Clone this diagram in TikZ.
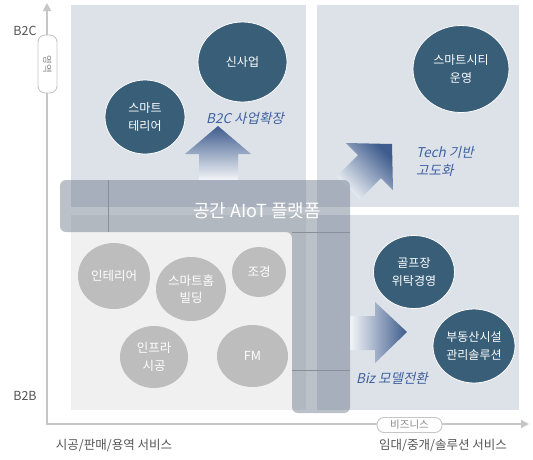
\documentclass[tikz,border=0pt]{standalone}
\usepackage{fontspec}
\setmainfont{Noto Sans CJK KR}
\newfontfamily\slfont[FakeSlant=0.22]{Noto Sans CJK KR}
\usetikzlibrary{arrows.meta,shapes.geometric}
\definecolor{panel}{HTML}{DDE1E8}
\definecolor{panellight}{HTML}{F0F0F0}
\definecolor{darkc}{HTML}{385E78}
\definecolor{greyc}{HTML}{BDBDBD}
\definecolor{bluetxt}{HTML}{3F62A0}
\definecolor{arrowdark}{HTML}{3E5C8D}
\definecolor{arrowlight}{HTML}{F3F5F8}
\definecolor{axisgrey}{HTML}{C6C6C6}
\definecolor{labelgrey}{HTML}{555555}
\definecolor{pilltext}{HTML}{8A8A8A}
\definecolor{platc}{HTML}{56667A}
\definecolor{platline}{HTML}{86909B}
\begin{document}
\begin{tikzpicture}[x=1pt,y=-1pt,
  darkcircle/.style={ellipse, fill=darkc, draw=white, line width=0.8pt, inner sep=0pt},
  greycircle/.style={ellipse, fill=greyc, inner sep=0pt},
  circtext/.style={text=white, align=center, inner sep=0pt, font=\fontsize{12}{18.5}\selectfont},
  greytext/.style={text=white, align=center, inner sep=0pt, font=\fontsize{12.5}{17.5}\selectfont},
  bluelabel/.style={text=bluetxt, inner sep=0pt, font=\slfont\fontsize{13.5}{18}\selectfont},
  axlabel/.style={text=labelgrey, inner sep=0pt, font=\fontsize{12.5}{14}\selectfont},
  pill/.style={draw=axisgrey, fill=white, line width=0.9pt, rounded corners=7pt, inner sep=0pt},
  axisline/.style={draw=axisgrey, line width=1.8pt, -{Triangle[length=8pt,width=8pt]}},
  platlinestyle/.style={draw=platline, line width=0.7pt},
]
\useasboundingbox (0,0) rectangle (533,459);
\fill[white] (0,0) rectangle (533,459);

% panels
\fill[panel] (71,5) rectangle (306,207);
\fill[panel] (317,5) rectangle (519,207);
\fill[panellight] (71,215) rectangle (306,410);
\fill[panel] (317,215) rectangle (519,410);

% axes
\coordinate (origin) at (47,424);
\coordinate (ytop) at (47,3);
\coordinate (xend) at (529,424);
\draw[axisline] (origin) -- (ytop);
\draw[axisline] ([xshift=-0.9pt]origin) -- (xend);

\node[pill, minimum width=19pt, minimum height=58pt] (ypill) at (47.5,64) {};
\node[text=pilltext, rotate=-90, inner sep=0pt, font=\fontsize{9.5}{10}\selectfont] (ypilltext) at (ypill) {영역};
\node[pill, minimum width=65pt, minimum height=15pt] (xpill) at (409.5,425) {};
\node[text=pilltext, inner sep=0pt, font=\fontsize{10.5}{12}\selectfont] (xpilltext) at (xpill) {비즈니스};

\node[axlabel] (b2c) at (25,31) {B2C};
\node[axlabel] (b2b) at (25,396) {B2B};
\node[axlabel] (xleft) at (114,445) {시공/판매/용역 서비스};
\node[axlabel] (xright) at (443,445) {임대/중개/솔루션 서비스};

% block arrows
\path[top color=arrowdark, bottom color=arrowlight]
  (218,126) -- (251,154) -- (238,154) -- (238,180) -- (199,180) -- (199,154) -- (185,154) -- cycle;
\path[bottom color=arrowlight, top color=arrowdark, shading angle=-45]
  (392,144) -- (393,190) -- (381,178) -- (360,199) -- (337,176) -- (358,155) -- (346,143) -- cycle;
\path[left color=arrowlight, right color=arrowdark]
  (350,316) -- (375,316) -- (375,302) -- (407,332) -- (375,363) -- (375,350) -- (350,350) -- cycle;

\node[bluelabel] (lb2c) at (245,118) {B2C 사업확장};
\node[bluelabel, anchor=west, align=left] (ltech) at (416,161) {Tech 기반\\고도화};
\node[bluelabel] (lbiz) at (392,378) {Biz 모델전환};

% dark circles
\node[darkcircle, minimum width=80pt, minimum height=74pt] (smt) at (145,117) {};
\node[circtext] at (smt) {스마트\\테리어};
\node[darkcircle, minimum width=89pt, minimum height=80pt] (new) at (242.5,62) {};
\node[circtext] at (new) {신사업};
\node[darkcircle, minimum width=96pt, minimum height=87pt] (city) at (461,69) {};
\node[circtext] at (city) {스마트시티\\운영};
\node[darkcircle, minimum width=81pt, minimum height=73pt] (golf) at (414,272) {};
\node[circtext] at (golf) {골프장\\위탁경영};
\node[darkcircle, minimum width=82pt, minimum height=74pt] (real) at (474,346) {};
\node[circtext] at (real) {부동산시설\\관리솔루션};

% grey circles
\node[greycircle, minimum width=72pt, minimum height=66pt] (inter) at (114,276) {};
\node[greytext] at (inter) {인테리어};
\node[greycircle, minimum width=70pt, minimum height=64pt] (home) at (191,289) {};
\node[greytext] at (home) {스마트홈\\빌딩};
\node[greycircle, minimum width=54pt, minimum height=50pt] (land) at (259,272) {};
\node[greytext] at (land) {조경};
\node[greycircle, minimum width=68pt, minimum height=62pt] (infra) at (154,357) {};
\node[greytext] at (infra) {인프라\\시공};
\node[greycircle, minimum width=71pt, minimum height=62pt] (fm) at (252.5,356) {};
\node[greytext] at (fm) {FM};

% platform
\fill[platc, fill opacity=0.4, rounded corners=6pt]
  (60,180) -- (350,180) -- (350,413) -- (292,413) -- (292,232) -- (60,232) -- cycle;
\draw[platlinestyle] (108,180) -- (108,232);
\draw[platlinestyle] (292,232) -- (350,232);
\draw[platlinestyle] (292,370) -- (350,370);
\node[text=white, inner sep=0pt, font=\fontsize{18}{20}\selectfont] (plat) at (257,211) {공간 AIoT 플랫폼};
\end{tikzpicture}
\end{document}
